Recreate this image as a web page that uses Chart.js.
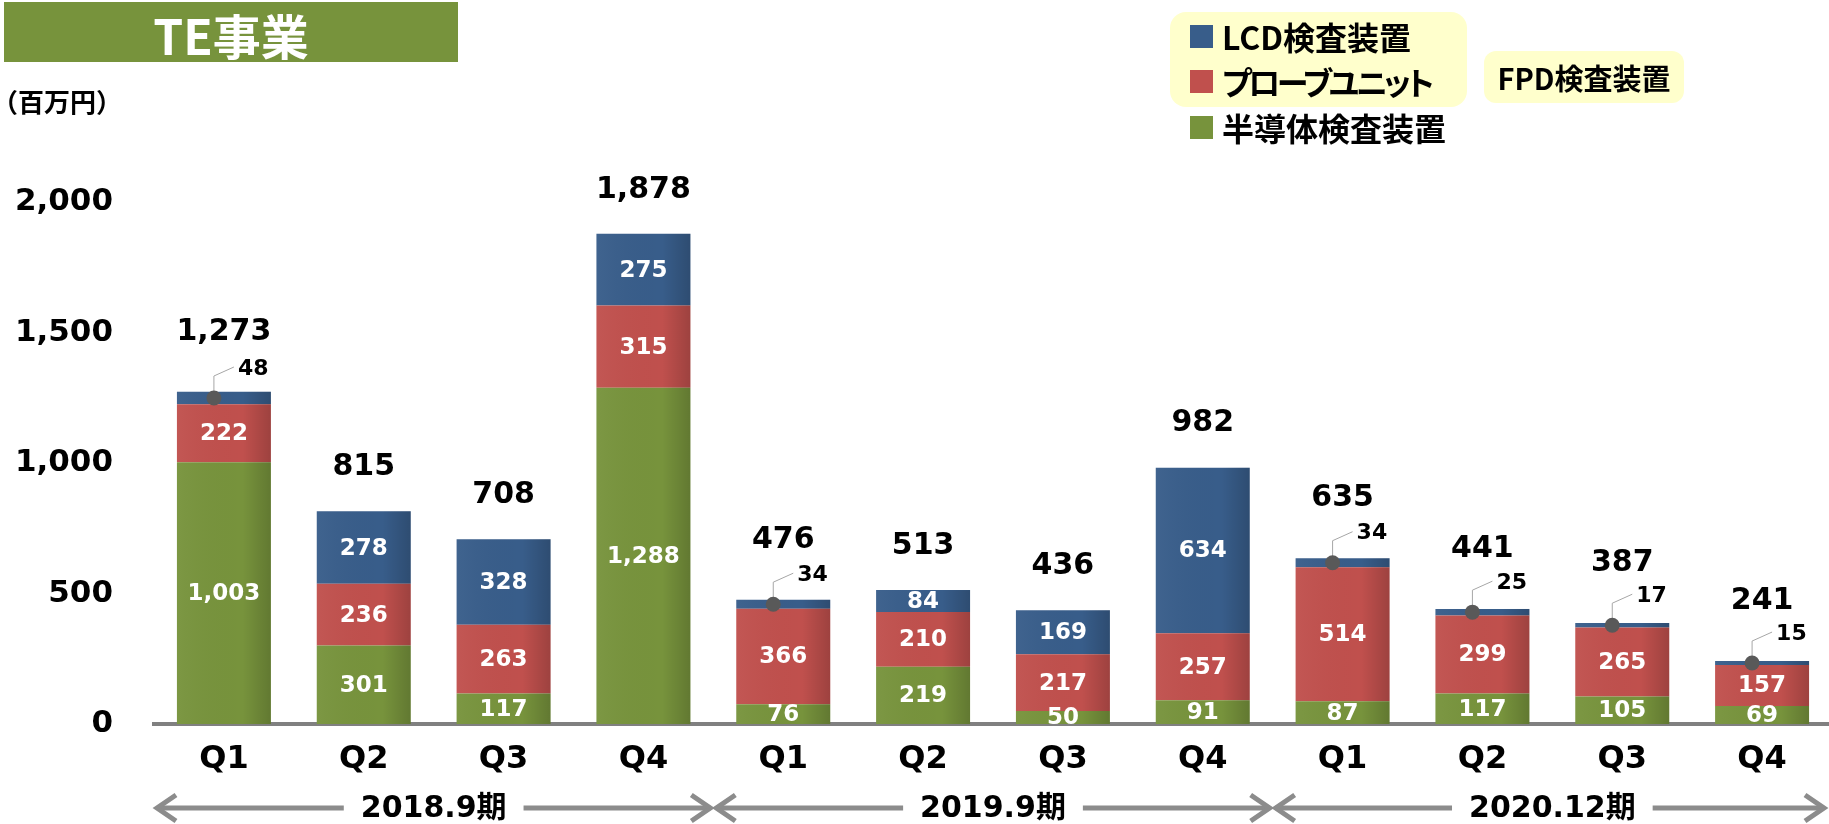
<!DOCTYPE html>
<html><head><meta charset="utf-8">
<script src="https://cdn.jsdelivr.net/npm/chart.js@4"></script>
<style>
html,body{margin:0;padding:0;background:#fff;overflow:hidden;width:1829px;height:824px;}
#wrap{position:relative;width:1840px;height:824px;}
canvas{position:absolute;left:0;top:0;}
.abs{position:absolute;font-family:"Noto Sans CJK JP",sans-serif;font-weight:bold;white-space:nowrap;}
.box{position:absolute;background:#FFFFCC;}
</style></head><body>
<div id="wrap">
<canvas id="c" width="1840" height="824"></canvas>
<div class="abs" style="left:4px;top:2px;width:454px;height:60px;background:#77933C;color:#fff;font-size:48px;line-height:64px;text-align:center;">TE事業</div>
<div class="abs" style="left:-8px;top:87px;font-size:26px;line-height:28px;color:#000;">（百万円）</div>
<div class="box" style="left:1170px;top:12px;width:297px;height:95px;border-radius:16px;"></div>
<div class="box" style="left:1484px;top:51px;width:200px;height:52px;border-radius:12px;"></div>
<div class="abs" style="left:1484px;top:51px;width:200px;height:52px;font-size:29px;line-height:52px;text-align:center;color:#000;">FPD検査装置</div>
<div id="legend"></div>
</div>
<script>
const categories = ['Q1','Q2','Q3','Q4','Q1','Q2','Q3','Q4','Q1','Q2','Q3','Q4'];
const periods = ['2018.9期','2019.9期','2020.12期'];
const periodSizes = [4,4,4];
const seriesNames = ['半導体検査装置','プローブユニット','LCD検査装置'];
const seriesColors = ['#77933C','#C0504D','#385D8A'];
const semiconductor = [1003,301,117,1288,76,219,50,91,87,117,105,69];
const probeUnit = [222,236,263,315,366,210,217,257,514,299,265,157];
const lcd = [48,278,328,275,34,84,169,634,34,25,17,15];
const totals = [1273,815,708,1878,476,513,436,982,635,441,387,241];
const yTicks = [0,500,1000,1500,2000];

const fmt = v => v.toLocaleString('en-US');

// legend (top to bottom: reverse of stack order)
const legendCenters = [36,81,127];
const legendSpacing = ['0px','-3.5px','0px'];
const lg = document.getElementById('legend');
[2,1,0].forEach((si,k)=>{
  const c = legendCenters[k];
  const sq = document.createElement('div');
  sq.style.cssText = `position:absolute;left:1190px;top:${c-11.5}px;width:23px;height:23px;background:${seriesColors[si]};`;
  lg.appendChild(sq);
  const t = document.createElement('div');
  t.className = 'abs';
  t.style.cssText = `left:1222px;top:${c-20}px;height:40px;line-height:40px;font-size:32px;color:#000;font-feature-settings:"palt";letter-spacing:${legendSpacing[k]};`;
  t.textContent = seriesNames[si];
  lg.appendChild(t);
});

const segData = [semiconductor, probeUnit, lcd];

const labelPlugin = {
  id:'labels',
  afterDatasetsDraw(chart){
    const ctx = chart.ctx;
    const metas = chart.data.datasets.map((d,i)=>chart.getDatasetMeta(i));
    ctx.save();
    metas.forEach(m=>m.data.forEach(el=>{
      const l = el.x - el.width/2, w = el.width, top = Math.min(el.y, el.base), h = Math.abs(el.base-el.y);
      const g = ctx.createLinearGradient(l,0,l+w,0);
      g.addColorStop(0,'rgba(255,255,255,0.04)');
      g.addColorStop(0.7,'rgba(0,0,0,0)');
      g.addColorStop(1,'rgba(0,0,0,0.18)');
      ctx.fillStyle = g; ctx.fillRect(l,top,w,h);
    }));
    ctx.textAlign='center'; ctx.textBaseline='middle';
    metas.forEach((m,di)=>{
      const vals = chart.data.datasets[di].data;
      const isTop = di === metas.length-1;
      m.data.forEach((el,i)=>{
        const v = vals[i];
        const cy = (el.y+el.base)/2;
        if (isTop && Math.abs(el.base-el.y) < 16) {
          const dx = el.x - 10, dy = cy;
          ctx.strokeStyle='#A6A6A6'; ctx.lineWidth=1;
          ctx.beginPath(); ctx.moveTo(dx, dy); ctx.lineTo(dx, dy-22); ctx.lineTo(dx+20, dy-31); ctx.stroke();
          ctx.fillStyle='#595959'; ctx.beginPath(); ctx.arc(dx,dy,7.5,0,Math.PI*2); ctx.fill();
          ctx.fillStyle='#000'; ctx.font='bold 22px "DejaVu Sans"'; ctx.textAlign='left';
          ctx.fillText(fmt(v), dx+24, dy-29);
          ctx.textAlign='center';
        } else {
          ctx.fillStyle='#fff'; ctx.font='bold 23px "DejaVu Sans"';
          ctx.fillText(fmt(v), el.x, cy+1);
        }
      });
    });
    const topMeta = metas[metas.length-1];
    topMeta.data.forEach((el,i)=>{
      const callout = Math.abs(el.base-el.y) < 16;
      ctx.fillStyle='#000'; ctx.font='bold 30px "DejaVu Sans"';
      ctx.fillText(fmt(totals[i]), el.x, el.y - (callout?60:44));
    });
    ctx.restore();
  }
};

const periodPlugin = {
  id:'periods',
  afterDraw(chart){
    const xs = chart.scales.x; const ctx = chart.ctx;
    const step = xs.getPixelForValue(1) - xs.getPixelForValue(0);
    const y = 808;
    let start = 0;
    ctx.save();
    ctx.font = 'bold 30px "DejaVu Sans", "Noto Sans CJK JP"';
    ctx.textAlign='center'; ctx.textBaseline='middle';
    periods.forEach((p,k)=>{
      const n = periodSizes[k];
      const L = xs.getPixelForValue(start) - step/2 + 1;
      const R = Math.min(xs.getPixelForValue(start+n-1) + step/2 - 1, 1826);
      const mid = (xs.getPixelForValue(start) + xs.getPixelForValue(start+n-1))/2;
      const half = ctx.measureText(p).width/2 + 17;
      ctx.strokeStyle='#8C8C8C'; ctx.lineWidth=5; ctx.lineCap='butt'; ctx.lineJoin='miter';
      ctx.beginPath();
      ctx.moveTo(L+2,y); ctx.lineTo(mid-half,y);
      ctx.moveTo(mid+half,y); ctx.lineTo(R-2,y);
      ctx.stroke();
      ctx.beginPath();
      ctx.moveTo(L+21,y-13); ctx.lineTo(L+2,y); ctx.lineTo(L+21,y+13);
      ctx.moveTo(R-21,y-13); ctx.lineTo(R-2,y); ctx.lineTo(R-21,y+13);
      ctx.stroke();
      ctx.fillStyle='#000';
      ctx.fillText(p, mid, y+1);
      start += n;
    });
    ctx.restore();
  }
};

new Chart(document.getElementById('c'), {
  type:'bar',
  data:{
    labels: categories,
    datasets: segData.map((d,i)=>({label:seriesNames[i], data:d, backgroundColor:seriesColors[i], borderWidth:0, barPercentage:0.672, categoryPercentage:1}))
  },
  options:{
    responsive:false, animation:false, devicePixelRatio:1,
    layout:{padding:{top:202,right:8,bottom:0,left:0}},
    plugins:{legend:{display:false}, tooltip:{enabled:false}},
    scales:{
      x:{stacked:true, grid:{display:false, drawTicks:false}, border:{color:'#808080', width:4},
         ticks:{color:'#000', font:{family:'"DejaVu Sans"', weight:'bold', size:32}, padding:16},
         afterFit(s){ s.height = 100; }},
      y:{stacked:true, min:0, max:2000, grid:{display:false, drawTicks:false}, border:{display:false},
         afterBuildTicks(s){ s.ticks = yTicks.map(v=>({value:v})); },
         ticks:{color:'#000', font:{family:'"DejaVu Sans"', weight:'bold', size:31}, padding:41, callback:v=>fmt(v)},
         afterFit(s){ s.width = 154; }}
    }
  },
  plugins:[labelPlugin, periodPlugin]
});
</script>
</body></html>
